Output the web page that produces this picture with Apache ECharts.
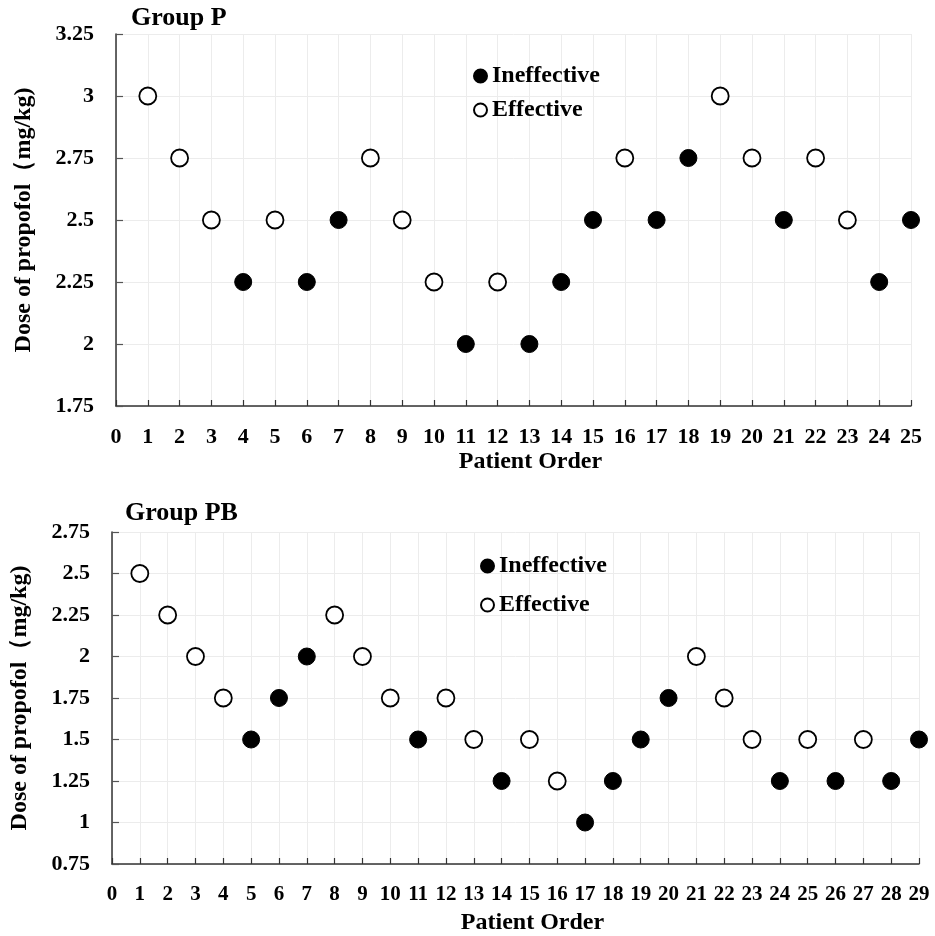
<!DOCTYPE html>
<html>
<head>
<meta charset="utf-8">
<title>Dose of propofol by patient order</title>
<script src="https://cdn.jsdelivr.net/npm/echarts@6/dist/echarts.min.js"></script>
<style>
    html, body { margin: 0; padding: 0; background: #fff; }
    #main { width: 935px; height: 936px; }
</style>
</head>
<body>
<div id="main"></div>
<script>
// 数据：按患者顺序记录剂量和结果（I = Ineffective, E = Effective）
var pOrder = [1, 2, 3, 4, 5, 6, 7, 8, 9, 10, 11, 12, 13, 14, 15, 16, 17, 18, 19, 20, 21, 22, 23, 24, 25];
var pDose = [3, 2.75, 2.5, 2.25, 2.5, 2.25, 2.5, 2.75, 2.5, 2.25, 2, 2.25, 2, 2.25, 2.5, 2.75, 2.5, 2.75, 3, 2.75, 2.5, 2.75, 2.5, 2.25, 2.5];
var pResult = ['E', 'E', 'E', 'I', 'E', 'I', 'I', 'E', 'E', 'E', 'I', 'E', 'I', 'I', 'I', 'E', 'I', 'I', 'E', 'E', 'I', 'E', 'E', 'I', 'I'];

var pbOrder = [1, 2, 3, 4, 5, 6, 7, 8, 9, 10, 11, 12, 13, 14, 15, 16, 17, 18, 19, 20, 21, 22, 23, 24, 25, 26, 27, 28, 29];
var pbDose = [2.5, 2.25, 2, 1.75, 1.5, 1.75, 2, 2.25, 2, 1.75, 1.5, 1.75, 1.5, 1.25, 1.5, 1.25, 1, 1.25, 1.5, 1.75, 2, 1.75, 1.5, 1.25, 1.5, 1.25, 1.5, 1.25, 1.5];
var pbResult = ['E', 'E', 'E', 'E', 'I', 'I', 'I', 'E', 'E', 'E', 'I', 'E', 'E', 'I', 'E', 'E', 'I', 'I', 'I', 'I', 'E', 'E', 'E', 'I', 'E', 'I', 'E', 'I', 'I'];

var pYRange = [1.75, 3.25];   // y 轴范围
var pbYRange = [0.75, 2.75];

var FONT = 'Liberation Serif';

function pick(order, dose, result, flag) {
    var out = [];
    for (var i = 0; i < order.length; i++) {
        if (result[i] === flag) out.push([order[i], dose[i]]);
    }
    return out;
}

function xAxisFor(idx, maxX, fontSize, gap) {
    return {
        gridIndex: idx,
        type: 'value',
        min: 0,
        max: maxX,
        interval: 1,
        name: 'Patient Order',
        nameLocation: 'middle',
        nameGap: gap,
        nameTextStyle: {
            fontFamily: FONT, fontWeight: 'bold', fontSize: 24, color: '#000',
            padding: [0, 0, 0, 34]
        },
        axisLine: { show: true, lineStyle: { color: '#333', width: 1.5 } },
        axisTick: { show: true, inside: true, length: 6, lineStyle: { color: '#333', width: 1.2 } },
        axisLabel: {
            fontFamily: FONT, fontWeight: 'bold', fontSize: fontSize, color: '#000', margin: 20
        },
        splitLine: { show: true, lineStyle: { color: '#ececec', width: 1 } }
    };
}

function yAxisFor(idx, range) {
    return {
        gridIndex: idx,
        type: 'value',
        min: range[0],
        max: range[1],
        interval: 0.25,
        name: 'Dose of propofol（mg/kg)',
        nameLocation: 'middle',
        nameGap: 80,
        nameTextStyle: { fontFamily: FONT, fontWeight: 'bold', fontSize: 24, color: '#000' },
        axisLine: { show: true, lineStyle: { color: '#333', width: 1.5 } },
        axisTick: { show: true, inside: true, length: 7, lineStyle: { color: '#555', width: 1.2 } },
        axisLabel: {
            fontFamily: FONT, fontWeight: 'bold', fontSize: 22, color: '#000', margin: 22
        },
        splitLine: { show: true, lineStyle: { color: '#ececec', width: 1 } }
    };
}

var filledStyle = { color: '#000', borderColor: '#000', borderWidth: 1, opacity: 1 };
var openStyle = { color: '#fff', borderColor: '#000', borderWidth: 1.8, opacity: 1 };

var legendText = { fontFamily: FONT, fontWeight: 'bold', fontSize: 24, color: '#000', lineHeight: 22, padding: [0, 0, 0, 0] };

var myChart = echarts.init(document.getElementById('main'), null, { renderer: 'canvas' });

var option = {
    backgroundColor: '#fff',
    animation: false,
    title: [
        { text: 'Group P', left: 126, top: 0, textStyle: { fontFamily: FONT, fontWeight: 'bold', fontSize: 26, color: '#000' } },
        { text: 'Group PB', left: 120, top: 495, textStyle: { fontFamily: FONT, fontWeight: 'bold', fontSize: 26, color: '#000' } }
    ],
    legend: [
        {
            orient: 'vertical', left: 468, top: 59, itemWidth: 13, itemHeight: 13, itemGap: 10,
            data: ['Ineffective', 'Effective'], textStyle: legendText, selectedMode: false
        },
        {
            orient: 'vertical', left: 475, top: 549, itemWidth: 13, itemHeight: 13, itemGap: 15,
            data: ['Ineffective', 'Effective'], textStyle: legendText, selectedMode: false
        }
    ],
    grid: [
        { left: 116, right: 935 - 911, top: 34, height: 372 },
        { left: 111, right: 935 - 919, top: 532, height: 332 }
    ],
    xAxis: [xAxisFor(0, 25, 22, 44), xAxisFor(1, 29, 21, 47)],
    yAxis: [yAxisFor(0, pYRange), yAxisFor(1, pbYRange)],
    series: [
        { name: 'Ineffective', type: 'scatter', xAxisIndex: 0, yAxisIndex: 0, symbolSize: 17, itemStyle: filledStyle, data: pick(pOrder, pDose, pResult, 'I') },
        { name: 'Effective', type: 'scatter', xAxisIndex: 0, yAxisIndex: 0, symbolSize: 17, itemStyle: openStyle, data: pick(pOrder, pDose, pResult, 'E') },
        { name: 'Ineffective', type: 'scatter', xAxisIndex: 1, yAxisIndex: 1, symbolSize: 17, itemStyle: filledStyle, data: pick(pbOrder, pbDose, pbResult, 'I') },
        { name: 'Effective', type: 'scatter', xAxisIndex: 1, yAxisIndex: 1, symbolSize: 17, itemStyle: openStyle, data: pick(pbOrder, pbDose, pbResult, 'E') }
    ]
};

myChart.setOption(option);
</script>
</body>
</html>
